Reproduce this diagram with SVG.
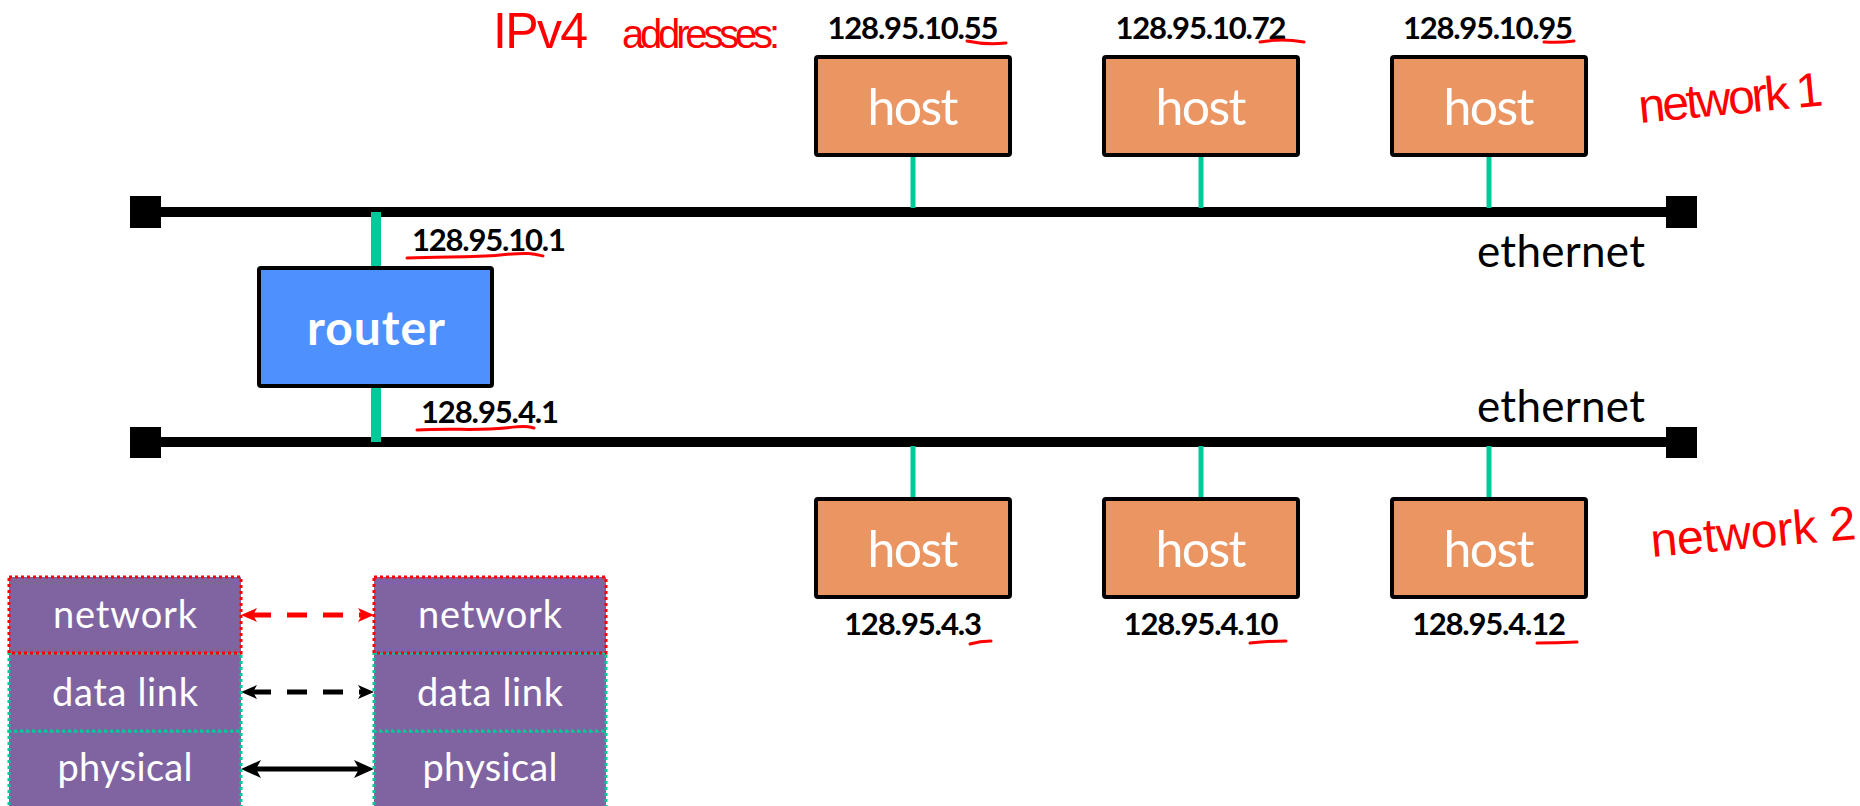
<svg xmlns="http://www.w3.org/2000/svg" width="1860" height="806" viewBox="0 0 1860 806">
  <style>
    .bus { stroke: #000; stroke-width: 10; fill: none; }
    .cap { fill: #000; }
    .tap { stroke: #00C99A; stroke-width: 5; }
    .tap-r { stroke: #00C99A; stroke-width: 10; }
    .host rect { fill: #EA9562; stroke: #000; stroke-width: 4; }
    .host .nm { font-family: Lato, "Open Sans", sans-serif; font-size: 50px; fill: #fff; text-anchor: middle; }
    .ip { font-family: Lato, "Open Sans", sans-serif; font-weight: bold; font-size: 31px; fill: #000; }
    .mid { text-anchor: middle; }
    .eth { font-family: Lato, "Open Sans", sans-serif; font-size: 44px; fill: #000; }
    .mark { fill: none; stroke: #FF0000; stroke-width: 3; stroke-linecap: round; }
    .note { font-family: "Liberation Sans", Arial, sans-serif; fill: #FF0000; }
    .layer rect { fill: #8064A2; stroke-width: 3; stroke-dasharray: 3 3; }
    .layer text { font-family: Lato, "Open Sans", sans-serif; font-size: 38px; fill: #fff; text-anchor: middle; }
    .l3 rect { stroke: #FF0000; }
    .l2 rect, .l1 rect { stroke: #00C99A; }
  </style>
  <defs>
    <marker id="headRed" markerUnits="userSpaceOnUse" markerWidth="20" markerHeight="16" refX="6" refY="7" orient="auto-start-reverse">
      <path d="M0,0 L16,7 L0,14 L4,7 Z" fill="#FF0000"/>
    </marker>
    <marker id="headBlk" markerUnits="userSpaceOnUse" markerWidth="20" markerHeight="16" refX="6" refY="7" orient="auto-start-reverse">
      <path d="M0,0 L16,7 L0,14 L4,7 Z" fill="#000"/>
    </marker>
    <marker id="headBig" markerUnits="userSpaceOnUse" markerWidth="24" markerHeight="20" refX="8" refY="9" orient="auto-start-reverse">
      <path d="M0,0 L20,9 L0,18 L5,9 Z" fill="#000"/>
    </marker>
  </defs>

  <rect width="1860" height="806" fill="#fff"/>

  <!-- ethernet segments -->
  <g id="ethernet-1">
    <line class="bus" x1="145" y1="212" x2="1682" y2="212"/>
    <rect class="cap" x="130" y="196" width="31" height="32"/>
    <rect class="cap" x="1666" y="196" width="31" height="32"/>
    <text class="eth" x="1477" y="267" textLength="168">ethernet</text>
  </g>
  <g id="ethernet-2">
    <line class="bus" x1="145" y1="442" x2="1682" y2="442"/>
    <rect class="cap" x="130" y="427" width="31" height="31"/>
    <rect class="cap" x="1666" y="427" width="31" height="31"/>
    <text class="eth" x="1477" y="422" textLength="168">ethernet</text>
  </g>

  <!-- links -->
  <g id="connectors">
    <line class="tap" x1="913" y1="155" x2="913" y2="208"/>
    <line class="tap" x1="1201" y1="155" x2="1201" y2="208"/>
    <line class="tap" x1="1489" y1="155" x2="1489" y2="208"/>
    <line class="tap" x1="913" y1="446" x2="913" y2="499"/>
    <line class="tap" x1="1201" y1="446" x2="1201" y2="499"/>
    <line class="tap" x1="1489" y1="446" x2="1489" y2="499"/>
    <line class="tap-r" x1="376" y1="212" x2="376" y2="269"/>
    <line class="tap-r" x1="376" y1="385" x2="376" y2="442"/>
    <!-- peer-layer arrows -->
    <line x1="251" y1="615" x2="364" y2="615" stroke="#FF0000" stroke-width="5" stroke-dasharray="20 16" marker-start="url(#headRed)" marker-end="url(#headRed)"/>
    <line x1="251" y1="692" x2="364" y2="692" stroke="#000" stroke-width="5" stroke-dasharray="20 16" marker-start="url(#headBlk)" marker-end="url(#headBlk)"/>
    <line x1="253" y1="769" x2="362" y2="769" stroke="#000" stroke-width="5" marker-start="url(#headBig)" marker-end="url(#headBig)"/>
  </g>

  <!-- network 1 hosts -->
  <g id="host-10-55" class="host">
    <rect x="816" y="57" width="194" height="98" rx="2"/>
    <text class="nm" x="913" y="125" textLength="91">host</text>
    <text class="ip mid" x="913" y="39" textLength="171">128.95.10.55</text>
  </g>
  <g id="host-10-72" class="host">
    <rect x="1104" y="57" width="194" height="98" rx="2"/>
    <text class="nm" x="1201" y="125" textLength="91">host</text>
    <text class="ip mid" x="1201" y="39" textLength="171">128.95.10.72</text>
  </g>
  <g id="host-10-95" class="host">
    <rect x="1392" y="57" width="194" height="98" rx="2"/>
    <text class="nm" x="1489" y="125" textLength="91">host</text>
    <text class="ip mid" x="1488" y="39" textLength="170">128.95.10.95</text>
  </g>

  <!-- network 2 hosts -->
  <g id="host-4-3" class="host">
    <rect x="816" y="499" width="194" height="98" rx="2"/>
    <text class="nm" x="913" y="567" textLength="91">host</text>
    <text class="ip mid" x="913" y="635" textLength="138">128.95.4.3</text>
  </g>
  <g id="host-4-10" class="host">
    <rect x="1104" y="499" width="194" height="98" rx="2"/>
    <text class="nm" x="1201" y="567" textLength="91">host</text>
    <text class="ip mid" x="1201" y="635" textLength="155">128.95.4.10</text>
  </g>
  <g id="host-4-12" class="host">
    <rect x="1392" y="499" width="194" height="98" rx="2"/>
    <text class="nm" x="1489" y="567" textLength="91">host</text>
    <text class="ip mid" x="1489" y="635" textLength="154">128.95.4.12</text>
  </g>

  <!-- router -->
  <g id="router">
    <rect x="259" y="268" width="233" height="118" fill="#4E90FE" stroke="#000" stroke-width="4" rx="2"/>
    <text x="376" y="345" font-family="Lato, 'Open Sans', sans-serif" font-weight="bold" font-size="48" fill="#fff" text-anchor="middle" textLength="138">router</text>
    <text class="ip" x="412" y="251" textLength="154">128.95.10.1</text>
    <text class="ip" x="421" y="423" textLength="138">128.95.4.1</text>
  </g>

  <!-- protocol stacks -->
  <g id="stack-left">
    <g class="layer l1"><rect x="9" y="731" width="232" height="78"/><text x="125" y="781" textLength="135">physical</text></g>
    <g class="layer l2"><rect x="9" y="653" width="232" height="78"/><text x="125" y="706" textLength="146">data link</text></g>
    <g class="layer l3"><rect x="9" y="577" width="232" height="76"/><text x="125" y="628" textLength="144">network</text></g>
  </g>
  <g id="stack-right">
    <g class="layer l1"><rect x="374" y="731" width="232" height="78"/><text x="490" y="781" textLength="135">physical</text></g>
    <g class="layer l2"><rect x="374" y="653" width="232" height="78"/><text x="490" y="706" textLength="146">data link</text></g>
    <g class="layer l3"><rect x="374" y="577" width="232" height="76"/><text x="490" y="628" textLength="144">network</text></g>
  </g>

  <!-- hand-drawn annotations -->
  <g id="annotations">
    <text class="note" x="493" y="48" font-size="50" textLength="95">IPv4</text>
    <text class="note" x="622" y="48" font-size="40" textLength="158">addresses:</text>
    <text class="note" x="1640" y="123" font-size="48" textLength="185" transform="rotate(-5.5 1640 123)">network 1</text>
    <text class="note" x="1652" y="557" font-size="48" textLength="206" transform="rotate(-5 1652 557)">network 2</text>
    <path class="mark" d="M967,41 Q985,45 1006,43"/>
    <path class="mark" d="M1260,42 Q1281,38 1304,42"/>
    <path class="mark" d="M1544,42 Q1560,43 1574,41"/>
    <path class="mark" d="M407,258 C440,256 470,258 500,255 S535,254 543,256"/>
    <path class="mark" d="M417,430 C450,428 480,431 505,428 S528,427 534,428"/>
    <path class="mark" d="M970,644 Q980,641 991,641"/>
    <path class="mark" d="M1250,643 Q1268,641 1286,641"/>
    <path class="mark" d="M1537,643 Q1556,643 1577,642"/>
  </g>
</svg>
